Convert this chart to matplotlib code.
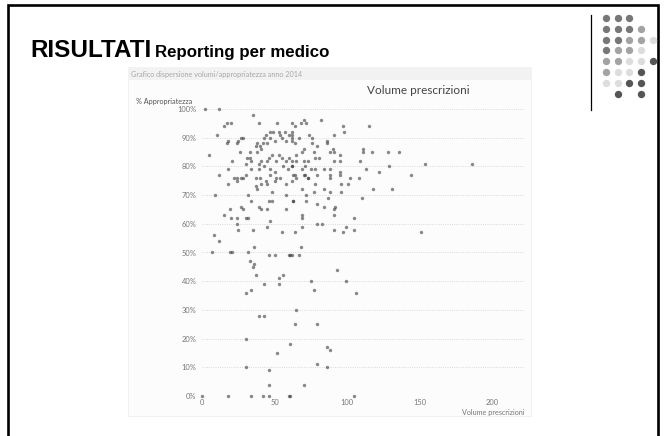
import numpy as np
import matplotlib
matplotlib.use("Agg")
import matplotlib.pyplot as plt
from matplotlib.patches import Rectangle

# volume prescrizioni (x) and % appropriatezza (y)
volume = [
    2, 12, 35, 39, 52, 62, 15, 17, 20, 10, 18, 17, 27, 28, 24, 25, 44, 47, 49, 53,
    54, 57, 60, 62, 62, 55, 58, 50, 47, 43, 45, 37, 38, 40, 42, 41, 38, 33, 5, 21,
    26, 31, 33, 30, 34, 39, 41, 45, 46, 48, 51, 53, 55, 58, 60, 62, 56, 59, 62, 50,
    47, 43, 39, 34, 30, 28, 24, 22, 12, 18, 51,
    70, 68, 64, 72, 82, 97, 98, 115, 62, 67, 74, 76, 91, 62, 64, 76, 86, 86, 70, 69,
    65, 79, 77, 90, 91, 88, 95, 111, 111, 117, 128, 136, 65, 70, 73, 78, 81, 91, 95, 109,
    129, 113, 62, 69, 71, 75, 78, 70, 64, 84, 88, 95, 122, 108, 88, 73,
    154, 186, 144, 118, 131, 110, 151,
    27, 18, 24, 37, 40, 44, 47, 50, 54, 58, 62, 37, 41, 45, 38, 48, 9, 32, 34, 46,
    48, 58, 63, 19, 27, 28, 39, 41, 45, 58, 15, 20, 24, 30, 32, 47, 24, 45, 25, 35,
    55, 8, 12, 36, 7, 19, 21, 32, 46, 50, 60, 62,
    63, 65, 71, 73, 79, 88, 95, 102, 78, 84, 96, 101, 69, 77, 88, 96, 72, 72, 87, 63,
    79, 84, 92, 91, 91, 69, 69, 105, 79, 83, 69, 91, 99, 105, 97, 64, 68, 67, 61,
    33, 36, 35, 37, 53, 56, 53, 43, 34, 30, 75, 77, 93, 99, 106, 65, 39, 43, 64, 79,
    30, 61, 52, 86, 88, 79, 86, 30, 46, 46, 70, 0, 18, 34, 42, 46, 60, 61, 105,
]
appropriatezza = [
    100, 100, 98, 95, 95, 95, 94, 95, 95, 91, 89, 88, 90, 90, 88, 89, 91, 92, 92, 92,
    91, 92, 91, 92, 90, 90, 89, 89, 90, 90, 88, 87, 88, 87, 88, 86, 85, 85, 84, 82,
    85, 83, 83, 81, 82, 81, 82, 82, 83, 84, 82, 84, 83, 82, 83, 82, 80, 79, 80, 78,
    79, 80, 79, 79, 77, 76, 76, 76, 77, 79, 76,
    96, 95, 94, 95, 96, 94, 92, 94, 91, 90, 91, 90, 91, 89, 88, 88, 89, 88, 86, 85,
    84, 87, 85, 86, 85, 85, 84, 86, 85, 85, 85, 85, 82, 82, 82, 83, 83, 82, 82, 82,
    80, 79, 80, 79, 80, 79, 79, 77, 77, 79, 79, 78, 78, 76, 77, 76,
    81, 81, 77, 72, 72, 69, 57,
    76, 74, 75, 76, 76, 75, 77, 75, 76, 74, 75, 73, 74, 74, 72, 71, 70, 70, 68, 68,
    68, 70, 68, 65, 66, 65, 66, 65, 65, 65, 63, 62, 62, 62, 62, 61, 60, 59, 58, 58,
    57, 56, 54, 52, 50, 50, 50, 50, 49, 49, 49, 49,
    77, 76, 77, 76, 77, 76, 77, 76, 74, 72, 74, 74, 72, 71, 71, 71, 70, 68, 69, 68,
    67, 66, 66, 65, 63, 63, 62, 62, 60, 60, 59, 58, 59, 58, 57, 57, 52, 49, 49,
    47, 46, 45, 42, 41, 42, 39, 39, 37, 36, 40, 37, 44, 40, 36, 30, 28, 28, 25, 25,
    20, 18, 15, 17, 16, 11, 10, 10, 9, 4, 4, 0, 0, 0, 0, 0, 0, 0, 0,
]
x_ticks = [0, 50, 100, 150, 200]
y_ticks = [0, 10, 20, 30, 40, 50, 60, 70, 80, 90, 100]

W, H = 664, 436
fig = plt.figure(figsize=(W / 100, H / 100), dpi=100)

# slide layer in pixel coordinates
bg = fig.add_axes([0, 0, 1, 1])
bg.set_xlim(0, W)
bg.set_ylim(H, 0)
bg.axis("off")

bg.add_patch(Rectangle((8, 5), 650, 445, facecolor="white", edgecolor="black", lw=1.9))
bg.plot([591, 591], [15, 110], color="black", lw=0.9)

# decorative dot block, top right
dark, mid, light, deep = "#777777", "#a3a3a3", "#dddddd", "#555555"
dot_rows = [
    [dark, dark, dark, None, None],
    [dark, dark, dark, mid, None],
    [dark, dark, mid, mid, light],
    [dark, mid, mid, light, None],
    [mid, mid, light, light, deep],
    [mid, light, light, deep, None],
    [light, light, deep, deep, None],
    [None, deep, None, deep, None],
]
for r, row in enumerate(dot_rows):
    for c, col in enumerate(row):
        if col:
            bg.plot(606 + c * 11.7, 18 + r * 10.8, "o", ms=5.3, color=col, mec="none")

hfont = ["Liberation Sans", "DejaVu Sans"]
bg.text(30, 57, "RISULTATI", fontsize=17.5, fontweight="bold", family=hfont, va="baseline")
bg.text(155, 57, "Reporting per medico", fontsize=12.2, fontweight="bold", family=hfont,
        va="baseline")

# embedded chart panel
bg.add_patch(Rectangle((128, 67), 403, 349, facecolor="#fcfcfc", edgecolor="#efefef", lw=0.6))
bg.add_patch(Rectangle((128, 67), 403, 13, facecolor="#f2f2f2", edgecolor="none"))
cfont = ["Lato", "DejaVu Sans"]
bg.text(131, 74, "Grafico dispersione volumi/appropriatezza anno 2014", fontsize=5.2,
        color="#a8a8a8", family=cfont, va="center")
bg.text(418, 90, "Volume prescrizioni", fontsize=8.5, color="#444444", family=cfont,
        ha="center", va="center")
bg.text(136, 101, "% Appropriatezza", fontsize=5.2, color="#555555", family=cfont,
        va="center")
bg.text(525, 412, "Volume prescrizioni", fontsize=5.2, color="#777777", family=cfont,
        ha="right", va="center")

ax = fig.add_axes([202 / W, 1 - 396 / H, (524 - 202) / W, (396 - 109) / H])
ax.set_facecolor("none")
ax.scatter(volume, appropriatezza, s=6, color="#3a3a3a", alpha=0.6, linewidths=0,
           clip_on=False, zorder=3)
ax.set_xlim(0, 222)
ax.set_ylim(0, 100)
ax.set_xticks(x_ticks)
ax.set_yticks(y_ticks)
ax.set_yticklabels([f"{v}%" for v in y_ticks])
ax.tick_params(length=0, labelsize=5.4, labelcolor="#777777", pad=2)
ax.tick_params(axis="y", pad=4)
for lab in ax.get_xticklabels() + ax.get_yticklabels():
    lab.set_family(cfont)
ax.grid(axis="y", color="#cfcfcf", lw=0.6, ls=":")
ax.grid(axis="x", visible=False)
for s in ax.spines.values():
    s.set_visible(False)

fig.savefig("out.png", dpi=100)
